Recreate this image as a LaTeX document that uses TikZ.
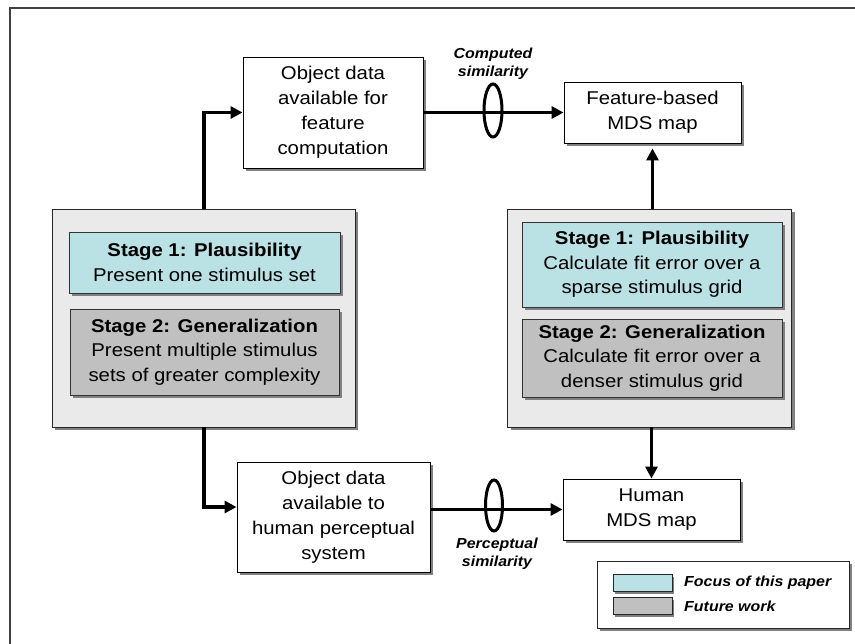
\documentclass[tikz,border=0pt]{standalone}
\usepackage{fontspec}
\setmainfont{Liberation Sans}[FakeStretch=1.1]
\usetikzlibrary{shadows,arrows.meta,calc,shapes.geometric}
\definecolor{cyanfill}{RGB}{186,225,228}
\definecolor{greyfill}{RGB}{192,192,192}
\definecolor{bigfill}{RGB}{234,234,234}
\definecolor{shadowgrey}{RGB}{128,128,128}
\begin{document}
\begin{tikzpicture}[x=1pt,y=-1pt,
  shad/.style={drop shadow={shadow xshift=3pt,shadow yshift=-3pt,fill=shadowgrey,opacity=1}},
  smallshad/.style={drop shadow={shadow xshift=2pt,shadow yshift=-2pt,fill=shadowgrey,opacity=1}},
  box/.style={draw=black,line width=0.9pt,fill=white,shad,align=center,inner sep=0pt,
    font=\fontsize{18.5}{25}\selectfont},
  bigbox/.style={draw=black!85,line width=0.9pt,fill=bigfill,shad,inner sep=0pt},
  stagebox/.style={draw=black!80,line width=0.8pt,shad,align=center,inner sep=0pt,
    font=\fontsize{18.5}{24.5}\selectfont},
  swatch/.style={draw=black!85,line width=0.8pt,smallshad,inner sep=0pt,minimum width=59pt,minimum height=17pt},
  lbl/.style={font=\fontsize{14.5}{18.5}\selectfont\bfseries\itshape,align=center,inner sep=0pt},
  flow/.style={line width=3.5pt,-{Triangle[length=12pt,width=12pt]}},
  ring/.style={draw=black,line width=3pt,ellipse,minimum width=18pt,minimum height=53pt,inner sep=0pt}
]
\useasboundingbox (0,0) rectangle (855,644);
\clip (0,0) rectangle (855,644);
\draw[line width=1.2pt,black!75] (10,8) rectangle (870,660);

% top row
\node[box,minimum width=180pt,minimum height=111pt] (A) at (333,112.5)
  {Object data\\available for\\feature\\computation};
\node[box,minimum width=177pt,minimum height=61pt] (B) at (652.5,112.5)
  {Feature-based\\MDS map};

% left stage panel
\node[bigbox,minimum width=303pt,minimum height=218pt] (L) at (203.5,318) {};
\node[stagebox,fill=cyanfill,minimum width=271pt,minimum height=61pt] (L1) at (204.5,262.5)
  {\textbf{Stage 1: Plausibility}\\Present one stimulus set};
\node[stagebox,fill=greyfill,minimum width=269pt,minimum height=86pt] (L2) at (204.5,352)
  {\textbf{Stage 2: Generalization}\\Present multiple stimulus\\sets of greater complexity};

% right stage panel
\node[bigbox,minimum width=284pt,minimum height=218pt] (R) at (649.5,318) {};
\node[stagebox,fill=cyanfill,minimum width=260pt,minimum height=85pt] (R1) at (652,264.5)
  {\textbf{Stage 1: Plausibility}\\Calculate fit error over a\\sparse stimulus grid};
\node[stagebox,fill=greyfill,minimum width=260pt,minimum height=78pt] (R2) at (652,358)
  {\textbf{Stage 2: Generalization}\\Calculate fit error over a\\denser stimulus grid};

% bottom row
\node[box,minimum width=193pt,minimum height=110pt] (C) at (333.5,517)
  {Object data\\available to\\human perceptual\\system};
\node[box,minimum width=177pt,minimum height=61pt] (D) at (651.5,509.5)
  {Human\\MDS map};

% connectors
\draw[flow] (L.north -| 204,0) |- (A.west);
\draw[flow] (A.east) -- (B.west);
\draw[flow] (L.south -| 204,0) |- ($(C.west)+(0,-10)$);
\draw[flow] (C.east |- D.west) -- (D.west);
\draw[flow] (R.north -| B.south) -- ($(B.south)+(0,5)$);
\draw[flow] (R.south -| D.north) -- (D.north);

% similarity rings and labels
\node[ring] (ringtop) at (493,110.5) {};
\node[ring,minimum width=17pt,minimum height=51pt] (ringbot) at (494,505.5) {};
\node[lbl] (comp) at (493,64) {Computed\\similarity};
\node[lbl] (perc) at (497,554) {Perceptual\\similarity};

% legend
\node[draw=black!85,line width=0.9pt,fill=white,shad,minimum width=252pt,minimum height=67pt,inner sep=0pt] (E) at (723,594.5) {};
\node[swatch,fill=cyanfill] (S1) at (642.5,583) {};
\node[swatch,fill=greyfill] (S2) at (642.5,606) {};
\node[lbl,anchor=west] (T1) at (684,583) {Focus of this paper};
\node[lbl,anchor=west] (T2) at (684,606) {Future work};
\end{tikzpicture}
\end{document}
